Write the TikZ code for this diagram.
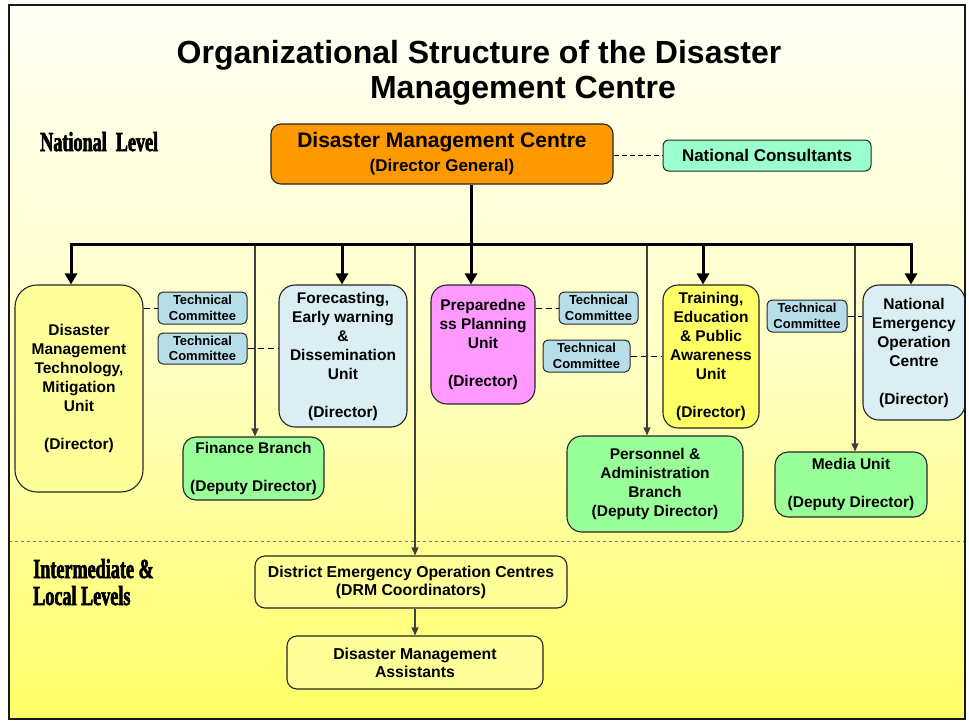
\documentclass[tikz,border=0pt]{standalone}
\usepackage{fontspec}
\setmainfont{Liberation Sans}
\newfontfamily\condfont[FakeStretch=0.66,FakeBold=2.2]{Liberation Serif Bold}
\usetikzlibrary{arrows.meta}
\definecolor{cOrange}{HTML}{FF9900}
\definecolor{cMint}{HTML}{99FFCC}
\definecolor{cLYel}{HTML}{FFFF99}
\definecolor{cYel}{HTML}{FFFF66}
\definecolor{cLBlue}{HTML}{DAEEF3}
\definecolor{cMag}{HTML}{FF99FF}
\definecolor{cGreen}{HTML}{99FF99}
\definecolor{cTC}{HTML}{B7DEE8}
\definecolor{cLine}{HTML}{404040}
\definecolor{cBgTop}{HTML}{FFFFF6}
\definecolor{cBgMid}{HTML}{FFFFC4}
\definecolor{cBgBot}{HTML}{FFFF66}
\tikzset{
  unitbox/.style={draw=black!85, line width=1.1pt, rounded corners=16pt, align=center, inner sep=0pt,
    font=\fontsize{15.5}{19}\selectfont\bfseries},
  tcbox/.style={draw=black!85, line width=1pt, rounded corners=5pt, fill=cTC, align=center, inner sep=0pt,
    font=\fontsize{13}{15.5}\selectfont\bfseries},
  thk/.style={line width=3pt, black},
  thkarrow/.style={thk, -{Triangle[width=12pt,length=11pt]}},
  thinarrow/.style={line width=1.2pt, cLine, -{Triangle[width=7pt,length=8pt]}},
  dashlink/.style={line width=1pt, black, dash pattern=on 6pt off 4pt},
  lvl/.style={anchor=base west, inner sep=0pt, font=\condfont\fontsize{27.5}{30}\selectfont},
  ttl/.style={anchor=base, inner sep=0pt, font=\fontsize{32}{38}\selectfont\bfseries}
}
\begin{document}
\begin{tikzpicture}[x=1pt,y=-1pt]
\useasboundingbox (0,0) rectangle (969,723);
\shade[top color=cBgTop, bottom color=cBgBot, middle color=cBgMid] (9,5) rectangle (965,719);

% titles
\node[ttl] (t1) at (479,63) {Organizational Structure of the Disaster};
\node[ttl] (t2) at (523,98) {Management Centre};
\node[lvl] (natl) at (40,151) {National\ \ Level};
\node[lvl] (inter) at (33,578) {Intermediate \&};
\node[lvl] (local) at (33,605) {Local Levels};

% separator
\draw[cLine!70, line width=0.8pt, dash pattern=on 3pt off 3pt] (9,541) -- (965,541);

% top
\node[draw=black!85, line width=1.1pt, rounded corners=10pt, fill=cOrange, minimum width=342pt, minimum height=60pt, inner sep=0pt, align=center]
  (dmc) at (442,154) {{\fontsize{21}{25}\selectfont\bfseries Disaster Management Centre}\\[6pt]{\fontsize{17}{20}\selectfont\bfseries (Director General)}};
\node[draw=black!85, line width=1pt, rounded corners=6pt, fill=cMint, minimum width=208pt, minimum height=31pt, inner sep=0pt,
  font=\fontsize{17}{20}\selectfont\bfseries] (nc) at (767,155.5) {National Consultants};
\draw[dashlink, dash pattern=on 5pt off 3pt] (nc.west -| dmc.east) -- (nc.west);

% units
\node[unitbox, rounded corners=22pt, fill=cLYel, minimum width=128pt, minimum height=207pt] (dmt) at (79,388.5)
  {Disaster\\Management\\Technology,\\Mitigation\\Unit\\[19pt](Director)};
\node[unitbox, fill=cLBlue, minimum width=128pt, minimum height=142pt] (fc) at (343,356)
  {Forecasting,\\Early warning\\\&\\Dissemination\\Unit\\[19pt](Director)};
\node[unitbox, fill=cMag, minimum width=104pt, minimum height=119pt] (prep) at (483,344.5)
  {Preparedne\\ss Planning\\Unit\\[19pt](Director)};
\node[unitbox, rounded corners=15pt, fill=cYel, minimum width=96pt, minimum height=143pt] (tr) at (711,356.5)
  {Training,\\Education\\\& Public\\Awareness\\Unit\\[19pt](Director)};
\node[unitbox, fill=cLBlue, minimum width=102pt, minimum height=135pt] (neoc) at (914,352.5)
  {National\\Emergency\\Operation\\Centre\\[19pt](Director)};

\node[unitbox, rounded corners=13pt, fill=cGreen, minimum width=141pt, minimum height=63pt] (fin) at (253.5,468.5)
  {Finance Branch\\[19pt](Deputy Director)};
\node[unitbox, rounded corners=15pt, fill=cGreen, minimum width=176pt, minimum height=96pt] (pers) at (655,484)
  {Personnel \&\\Administration\\Branch\\(Deputy Director)};
\node[unitbox, rounded corners=13pt, fill=cGreen, minimum width=152pt, minimum height=65pt] (media) at (851,484.5)
  {Media Unit\\[19pt](Deputy Director)};

% technical committees
\node[tcbox, minimum width=89pt, minimum height=32pt] (tc1) at (202.5,308) {Technical\\Committee};
\node[tcbox, minimum width=89pt, minimum height=31pt] (tc2) at (202.5,348.5) {Technical\\Committee};
\node[tcbox, minimum width=79pt, minimum height=32pt] (tc3) at (598.5,308) {Technical\\Committee};
\node[tcbox, minimum width=87pt, minimum height=32pt] (tc4) at (586.5,356) {Technical\\Committee};
\node[tcbox, minimum width=80pt, minimum height=32pt] (tc5) at (807,316) {Technical\\Committee};

\draw[dashlink] (tc1.west -| dmt.east) -- (tc1.west);
\draw[dashlink] (tc2.east) -- (tc2.east -| fc.west);
\draw[dashlink] (tc3.west -| prep.east) -- (tc3.west);
\draw[dashlink] (tc4.east) -- (tc4.east -| tr.west);
\draw[dashlink] (tc5.east) -- (tc5.east -| neoc.west);

% local level
\node[unitbox, rounded corners=10pt, fill=cLYel, minimum width=312pt, minimum height=52pt, font=\fontsize{15.8}{18}\selectfont\bfseries]
  (deoc) at (411,582) {District Emergency Operation Centres\\(DRM Coordinators)};
\node[unitbox, rounded corners=10pt, fill=cLYel, minimum width=256pt, minimum height=53pt, font=\fontsize{15.8}{18}\selectfont\bfseries]
  (dma) at (415,662.5) {Disaster Management\\Assistants};

% bar
\coordinate (bL) at (71,244);
\coordinate (bR) at (911,244);
\coordinate (bC) at (471,244);
\coordinate (bF) at (342,244);
\coordinate (bT) at (703,244);
\coordinate (s1) at (255,244);
\coordinate (s2) at (415,244);
\coordinate (s3) at (647,244);
\coordinate (s4) at (855,244);

\draw[thinarrow] (s1) -- (s1 |- fin.north);
\draw[thinarrow] (s2) -- (s2 |- deoc.north);
\draw[thinarrow] (s3) -- (s3 |- pers.north);
\draw[thinarrow] (s4) -- (s4 |- media.north);
\draw[thinarrow] (deoc.south -| dma.north) -- (dma.north);

\draw[thk] (dmc.south -| bC) -- (bC);
\draw[thk, line cap=rect] (bL) -- (bR);
\draw[thkarrow] (bL) -- (bL |- dmt.north);
\draw[thkarrow] (bF) -- (bF |- fc.north);
\draw[thkarrow] (bC) -- (bC |- prep.north);
\draw[thkarrow] (bT) -- (bT |- tr.north);
\draw[thkarrow] (bR) -- (bR |- neoc.north);

% frame
\draw[line width=2pt, black!90] (9,5) rectangle (965,719);
\end{tikzpicture}
\end{document}
